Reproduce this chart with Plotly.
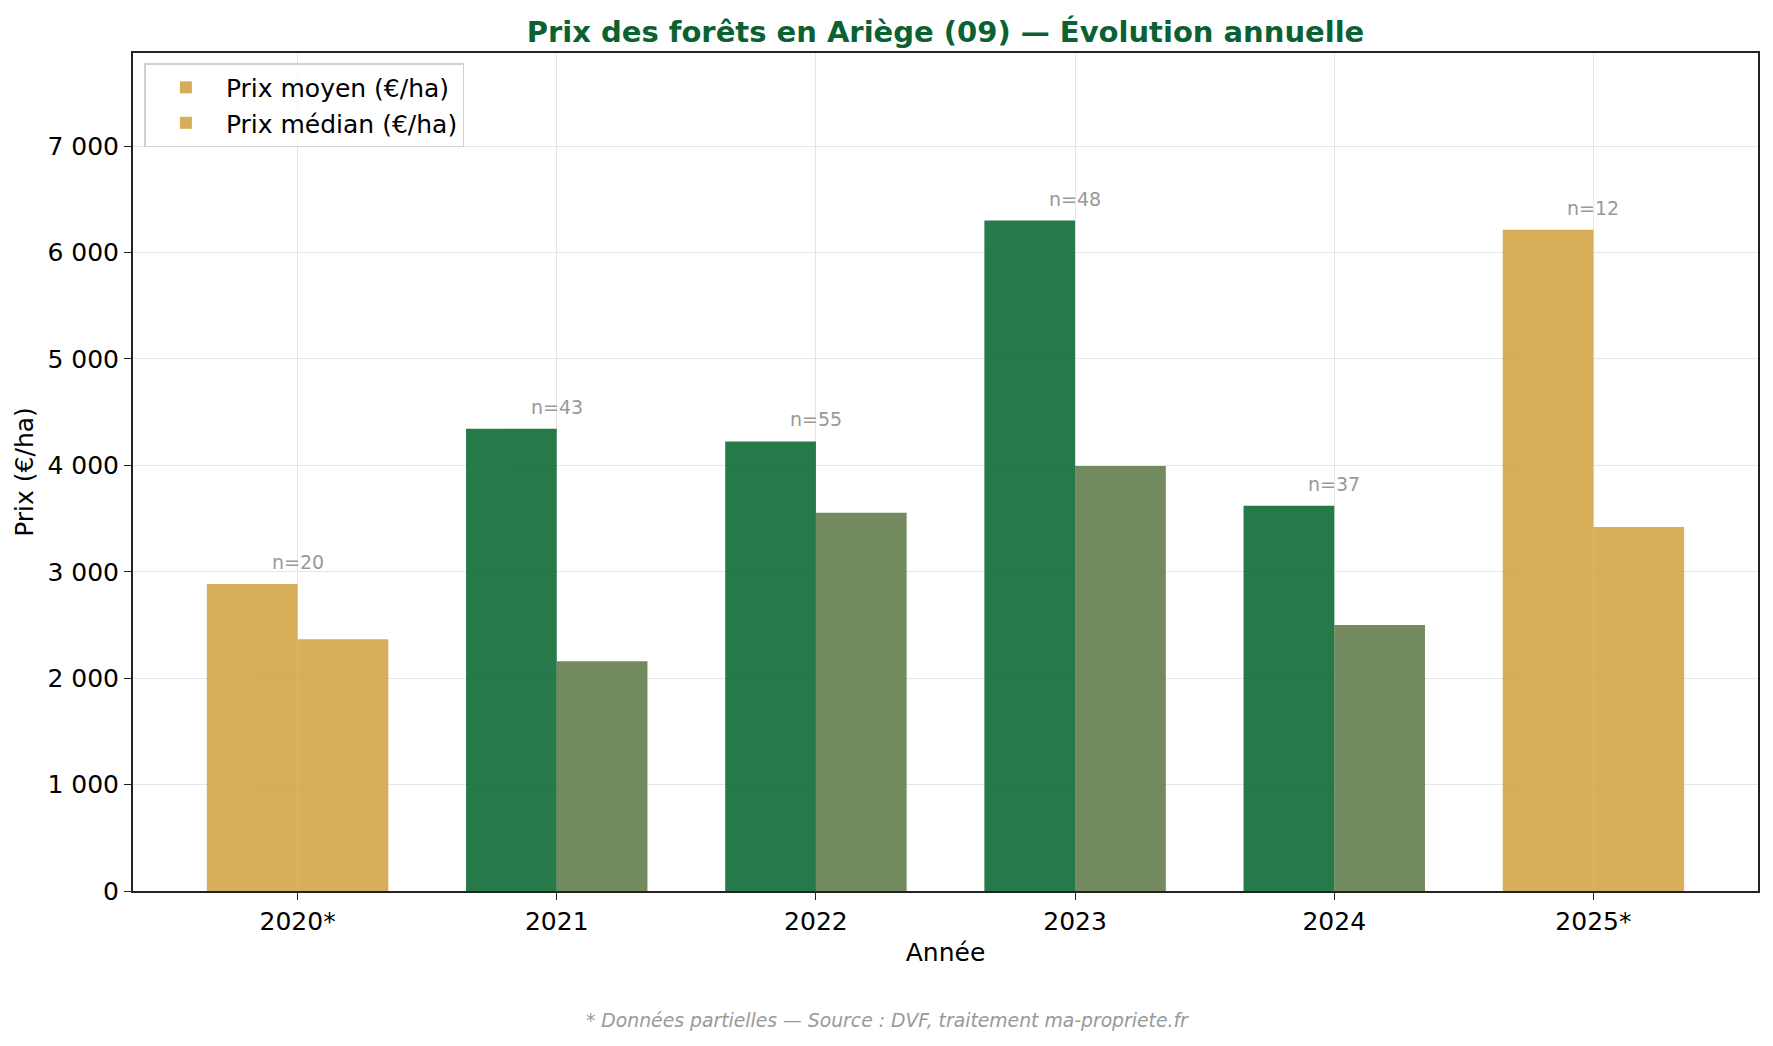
import plotly.graph_objects as go

# Prix des forets en Ariege - moyenne / mediane par annee
annees = ['2020*', '2021', '2022', '2023', '2024', '2025*']
prix_moyen = [2885, 4345, 4225, 6300, 3620, 6215]
prix_median = [2365, 2160, 3555, 3995, 2500, 3420]
nb_ventes = [20, 43, 55, 48, 37, 12]
partiel = [True, False, False, False, False, True]

# colours (bars drawn with opacity 0.9 so the grid shows through like the original)
vert = '#0f6b36'
olive = '#637d4d'
or_ = '#d4a548'
col_moyen = [or_ if p else vert for p in partiel]
col_median = [or_ if p else olive for p in partiel]

font = 'DejaVu Sans'

fig = go.Figure()

fig.add_trace(go.Bar(
    x=annees,
    y=prix_moyen,
    name='Prix moyen (€/ha)',
    marker=dict(color=col_moyen, line=dict(width=0)),
    opacity=0.9,
))

fig.add_trace(go.Bar(
    x=annees,
    y=prix_median,
    name='Prix médian (€/ha)',
    marker=dict(color=col_median, line=dict(width=0)),
    opacity=0.9,
))

# n= labels above each group (x given as category index, "2021" would be read as a number)
for i, (m, n) in enumerate(zip(prix_moyen, nb_ventes)):
    fig.add_annotation(
        x=i, y=m + 85, text=f'n={n}', showarrow=False,
        yanchor='bottom', xanchor='center',
        font=dict(family=font, size=19, color='#999999'),
    )

# footnote
fig.add_annotation(
    xref='paper', yref='paper', x=0.464, y=-0.154,
    text='<i>* Données partielles — Source : DVF, traitement ma-propriete.fr</i>',
    showarrow=False, xanchor='center', yanchor='middle',
    font=dict(family=font, size=18.8, color='#999999'),
)

fig.update_layout(
    width=1765,
    height=1038,
    paper_bgcolor='white',
    plot_bgcolor='white',
    margin=dict(l=125, r=15, t=45, b=155),
    font=dict(family=font, size=25, color='black'),
    title=dict(
        text='<b>Prix des forêts en Ariège (09) — Évolution annuelle</b>',
        xref='paper', x=0.5, xanchor='center', y=0.977, yanchor='middle',
        font=dict(family=font, size=29, color='#0a6132'),
    ),
    barmode='group',
    bargap=0.3,
    bargroupgap=0,
    separators=', ',
    showlegend=True,
    legend=dict(
        x=0.007, y=0.988, xanchor='left', yanchor='top',
        bgcolor='rgba(255,255,255,0.8)',
        bordercolor='#d0d0d0', borderwidth=1.5,
        font=dict(family=font, size=25),
        itemwidth=70,
        tracegroupgap=4,
    ),
    xaxis=dict(
        title=dict(text='Année', standoff=8, font=dict(size=25)),
        range=[-0.635, 5.635],
        showgrid=True, gridcolor='#e6e6e6', gridwidth=1,
        showline=True, linecolor='#222222', linewidth=2, mirror=True,
        ticks='outside', ticklen=7, tickcolor='#222222',
        tickfont=dict(size=25),
    ),
    yaxis=dict(
        title=dict(text='Prix (€/ha)', standoff=7, font=dict(size=25)),
        range=[0, 7875],
        dtick=1000,
        tickformat=',.0f',
        showgrid=True, gridcolor='#e6e6e6', gridwidth=1,
        zeroline=False,
        showline=True, linecolor='#222222', linewidth=2, mirror=True,
        ticks='outside', ticklen=7, tickcolor='#222222',
        tickfont=dict(size=25),
    ),
)

fig.write_html('out.html')
